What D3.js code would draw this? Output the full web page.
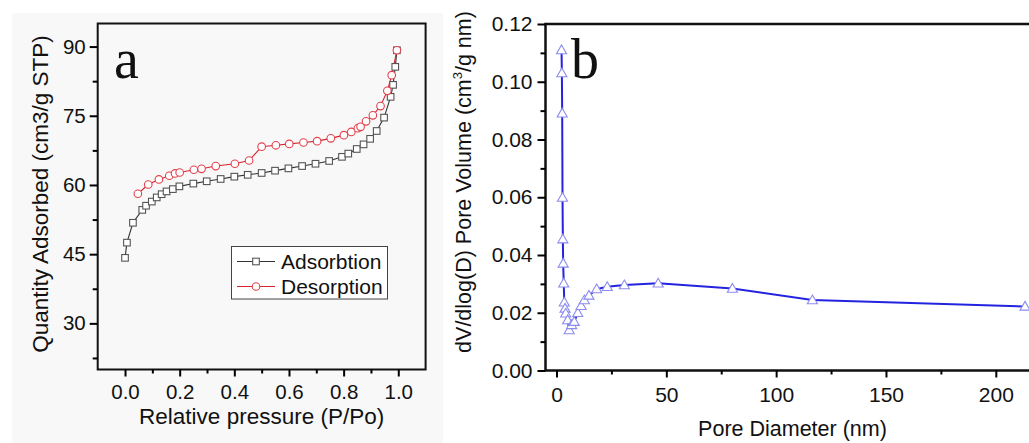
<!DOCTYPE html>
<html>
<head>
<meta charset="utf-8">
<script src="https://cdn.jsdelivr.net/npm/d3@7"></script>
<style>
  body { margin: 0; background: #fff; }
  svg text { font-family: "Liberation Sans", Arial, sans-serif; fill: #111; }
</style>
</head>
<body>
<script>
// panel a: N2 isotherm (P/Po, quantity)
let adsP = [0.000, 0.007, 0.029, 0.063, 0.077, 0.098, 0.116, 0.134, 0.152, 0.175, 0.199, 0.250, 0.299, 0.350, 0.400, 0.449, 0.500, 0.549, 0.598, 0.648, 0.697, 0.747, 0.794, 0.817, 0.848, 0.873, 0.897, 0.921, 0.948, 0.972, 0.981, 0.989, 0.995];
let adsQ = [44.2, 47.5, 51.8, 54.6, 55.5, 56.4, 57.3, 58.0, 58.6, 59.1, 59.7, 60.3, 60.8, 61.3, 61.8, 62.2, 62.6, 63.1, 63.6, 64.1, 64.6, 65.2, 66.1, 66.8, 67.8, 68.8, 70.0, 71.7, 74.6, 79.1, 81.7, 85.6, 89.2];
let desP = [0.047, 0.085, 0.124, 0.162, 0.183, 0.200, 0.252, 0.280, 0.332, 0.402, 0.454, 0.500, 0.552, 0.601, 0.653, 0.703, 0.753, 0.801, 0.828, 0.852, 0.862, 0.882, 0.907, 0.935, 0.960, 0.976, 0.995];
let desQ = [58.1, 60.1, 61.2, 62.0, 62.5, 62.7, 63.3, 63.5, 64.1, 64.6, 65.3, 68.3, 68.6, 68.9, 69.2, 69.5, 70.1, 70.8, 71.5, 72.3, 72.6, 73.8, 75.1, 77.1, 80.4, 83.8, 89.2];
let aTicksX = [0, 0.2, 0.4, 0.6, 0.8, 1.0];
let aTicksY = [30, 45, 60, 75, 90];

// panel b: BJH pore size distribution (nm, dV/dlogD)
let poreD = [2.3, 2.45, 2.6, 2.75, 2.9, 3.05, 3.3, 3.55, 3.9, 4.2, 5.1, 5.8, 6.9, 8.1, 9.7, 11.2, 12.7, 14.8, 18.3, 23.1, 30.9, 46.3, 80.1, 116.5, 213.3];
let poreV = [0.1110, 0.1030, 0.0891, 0.0599, 0.0455, 0.0371, 0.0302, 0.0236, 0.0215, 0.0198, 0.0175, 0.0140, 0.0158, 0.0169, 0.0200, 0.0224, 0.0244, 0.0260, 0.0282, 0.0290, 0.0296, 0.0302, 0.0284, 0.0244, 0.0222];
let bTicksX = [0, 50, 100, 150, 200];
let bTicksY = [0, 0.02, 0.04, 0.06, 0.08, 0.10, 0.12];

let width = 1029;
let height = 443;

let svg = d3.select("body")
    .append("svg")
    .attr("width", width)
    .attr("height", height);

// faint grey backdrop of panel a
svg.append("rect")
    .attr("x", 12).attr("y", 13)
    .attr("width", 431).attr("height", 430)
    .attr("fill", "#f8f8f8");

// ---------- panel a ----------
let xA = d3.scaleLinear().domain([-0.1, 1.1]).range([97.7, 425.6]);
let yA = d3.scaleLinear().domain([20, 95]).range([369.5, 23.5]);

let gA = svg.append("g");

gA.append("rect")
    .attr("x", xA(-0.1)).attr("y", yA(95))
    .attr("width", xA(1.1) - xA(-0.1))
    .attr("height", yA(20) - yA(95))
    .attr("fill", "none")
    .attr("stroke", "#111")
    .attr("stroke-width", 2);

// minor ticks
gA.append("g")
    .attr("transform", `translate(0,${yA(20)})`)
    .call(d3.axisBottom(xA).tickValues(d3.range(0.1, 1.0, 0.2)).tickSize(4).tickFormat(""))
    .call(g => g.select(".domain").remove())
    .selectAll("line").attr("stroke-width", 2);
gA.append("g")
    .attr("transform", `translate(${xA(-0.1)},0)`)
    .call(d3.axisLeft(yA).tickValues([22.5, 37.5, 52.5, 67.5, 82.5]).tickSize(5).tickFormat(""))
    .call(g => g.select(".domain").remove())
    .selectAll("line").attr("stroke-width", 2);

// major ticks
gA.append("g")
    .attr("transform", `translate(0,${yA(20)})`)
    .call(d3.axisBottom(xA).tickValues(aTicksX).tickSize(7).tickPadding(8).tickFormat(d3.format(".1f")))
    .call(g => g.select(".domain").remove())
    .call(g => g.selectAll("line").attr("stroke-width", 2))
    .call(g => g.selectAll("text").attr("font-size", 20.5).attr("font-family", null));
gA.append("g")
    .attr("transform", `translate(${xA(-0.1)},0)`)
    .call(d3.axisLeft(yA).tickValues(aTicksY).tickSize(8).tickPadding(4))
    .call(g => g.select(".domain").remove())
    .call(g => g.selectAll("line").attr("stroke-width", 2))
    .call(g => g.selectAll("text").attr("font-size", 20.5).attr("font-family", null));

gA.append("text")
    .attr("x", (xA(-0.1) + xA(1.1)) / 2)
    .attr("y", 424)
    .attr("text-anchor", "middle")
    .attr("font-size", 22.5)
    .text("Relative pressure (P/Po)");

gA.append("text")
    .attr("transform", `translate(48,${194}) rotate(-90)`)
    .attr("text-anchor", "middle")
    .attr("font-size", 22.5)
    .text("Quantity Adsorbed (cm3/g STP)");

gA.append("text")
    .attr("x", 114).attr("y", 78)
    .attr("font-size", 56)
    .style("font-family", "'Liberation Serif', 'Times New Roman', serif")
    .text("a");

let adsData = adsP.map((p, i) => ({ x: p, y: adsQ[i] }));
let desData = desP.map((p, i) => ({ x: p, y: desQ[i] }));

let lineA = d3.line().x(d => xA(d.x)).y(d => yA(d.y));

gA.append("path")
    .datum(adsData)
    .attr("d", lineA)
    .attr("fill", "none")
    .attr("stroke", "#333")
    .attr("stroke-width", 1.1);

gA.append("path")
    .datum(desData)
    .attr("d", lineA)
    .attr("fill", "none")
    .attr("stroke", "#d8232e")
    .attr("stroke-width", 1.1);

gA.selectAll(".sq")
    .data(adsData)
    .enter().append("rect")
    .attr("class", "sq")
    .attr("x", d => xA(d.x) - 3.3)
    .attr("y", d => yA(d.y) - 3.3)
    .attr("width", 6.6).attr("height", 6.6)
    .attr("fill", "#fff")
    .attr("stroke", "#555")
    .attr("stroke-width", 1.1);

gA.selectAll(".ci")
    .data(desData)
    .enter().append("circle")
    .attr("class", "ci")
    .attr("cx", d => xA(d.x))
    .attr("cy", d => yA(d.y))
    .attr("r", 3.8)
    .attr("fill", "#fff")
    .attr("stroke", "#e2414c")
    .attr("stroke-width", 1.1);

// legend
let leg = gA.append("g");
leg.append("rect")
    .attr("x", 231.5).attr("y", 246.5)
    .attr("width", 156).attr("height", 52.5)
    .attr("fill", "#fff")
    .attr("stroke", "#444")
    .attr("stroke-width", 1);
leg.append("line").attr("x1", 237).attr("x2", 275).attr("y1", 261.5).attr("y2", 261.5)
    .attr("stroke", "#333").attr("stroke-width", 1.1);
leg.append("rect").attr("x", 252.7).attr("y", 258.2).attr("width", 6.6).attr("height", 6.6)
    .attr("fill", "#fff").attr("stroke", "#555").attr("stroke-width", 1.1);
leg.append("line").attr("x1", 237).attr("x2", 275).attr("y1", 286.5).attr("y2", 286.5)
    .attr("stroke", "#d8232e").attr("stroke-width", 1.1);
leg.append("circle").attr("cx", 256).attr("cy", 286.5).attr("r", 3.8)
    .attr("fill", "#fff").attr("stroke", "#e2414c").attr("stroke-width", 1.1);
leg.append("text").attr("x", 281).attr("y", 269).attr("font-size", 21).text("Adsorbtion");
leg.append("text").attr("x", 281).attr("y", 294).attr("font-size", 21).text("Desorption");

// ---------- panel b ----------
let xB = d3.scaleLinear().domain([-5, 200]).range([545.5, 995.8]);
let yB = d3.scaleLinear().domain([0, 0.12]).range([370.5, 24]);

let gB = svg.append("g");

gB.append("path")
    .attr("d", `M${width + 5},${yB(0.12)}H${xB(-5)}V${yB(0)}H${width + 5}`)
    .attr("fill", "none")
    .attr("stroke", "#111")
    .attr("stroke-width", 2.5);

gB.append("g")
    .attr("transform", `translate(0,${yB(0)})`)
    .call(d3.axisBottom(xB).tickValues([25, 75, 125, 175]).tickSize(4).tickFormat(""))
    .call(g => g.select(".domain").remove())
    .selectAll("line").attr("stroke-width", 2);
gB.append("g")
    .attr("transform", `translate(${xB(-5)},0)`)
    .call(d3.axisLeft(yB).tickValues(d3.range(0.01, 0.12, 0.02)).tickSize(5).tickFormat(""))
    .call(g => g.select(".domain").remove())
    .selectAll("line").attr("stroke-width", 2);

gB.append("g")
    .attr("transform", `translate(0,${yB(0)})`)
    .call(d3.axisBottom(xB).tickValues(bTicksX).tickSize(7).tickPadding(10))
    .call(g => g.select(".domain").remove())
    .call(g => g.selectAll("line").attr("stroke-width", 2))
    .call(g => g.selectAll("text").attr("font-size", 21).attr("font-family", null));
gB.append("g")
    .attr("transform", `translate(${xB(-5)},0)`)
    .call(d3.axisLeft(yB).tickValues(bTicksY).tickSize(8).tickPadding(5).tickFormat(d3.format(".2f")))
    .call(g => g.select(".domain").remove())
    .call(g => g.selectAll("line").attr("stroke-width", 2))
    .call(g => g.selectAll("text").attr("font-size", 21).attr("font-family", null));

gB.append("text")
    .attr("x", 792.5)
    .attr("y", 436)
    .attr("text-anchor", "middle")
    .attr("font-size", 21.5)
    .text("Pore Diameter (nm)");

let yt = gB.append("text")
    .attr("transform", `translate(471,182) rotate(-90)`)
    .attr("text-anchor", "middle")
    .attr("font-size", 21.5);
yt.append("tspan").text("dV/dlog(D) Pore Volume (cm");
yt.append("tspan").attr("font-size", 13).attr("dy", -9).text("3");
yt.append("tspan").attr("dy", 9).text("/g nm)");

gB.append("text")
    .attr("x", 571).attr("y", 78)
    .attr("font-size", 56)
    .style("font-family", "'Liberation Serif', 'Times New Roman', serif")
    .text("b");

let poreData = poreD.map((d, i) => ({ x: d, y: poreV[i] }));

gB.append("path")
    .datum(poreData)
    .attr("d", d3.line().x(d => xB(d.x)).y(d => yB(d.y)))
    .attr("fill", "none")
    .attr("stroke", "#2323e0")
    .attr("stroke-width", 2);

let tri = d3.symbol().type(d3.symbolTriangle).size(44);
gB.selectAll(".tri")
    .data(poreData)
    .enter().append("path")
    .attr("class", "tri")
    .attr("d", tri)
    .attr("transform", d => `translate(${xB(d.x)},${yB(d.y) + 0.8})`)
    .attr("fill", "#fff")
    .attr("stroke", "#8b8bf0")
    .attr("stroke-width", 1.1);
</script>
</body>
</html>
